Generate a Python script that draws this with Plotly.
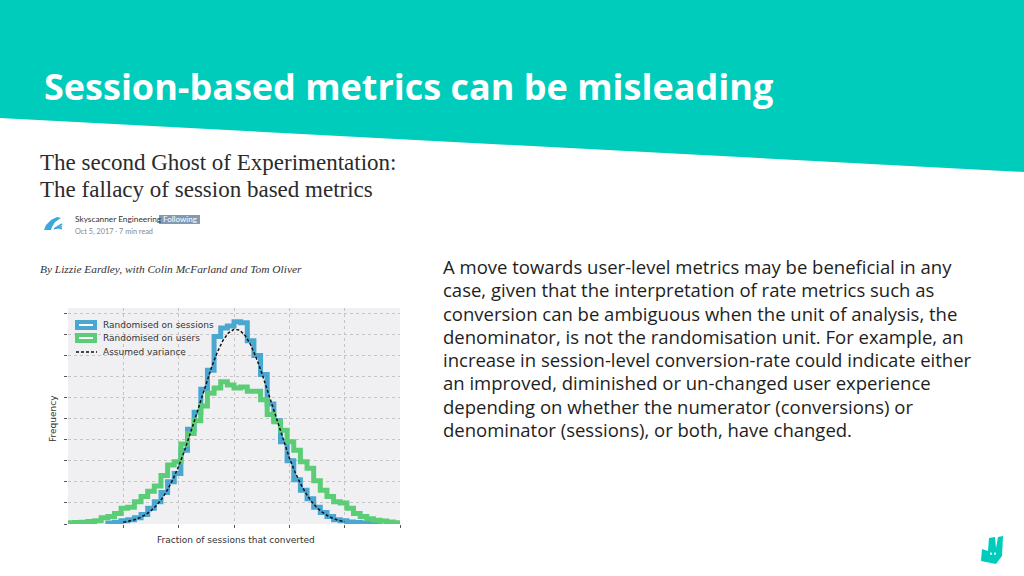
import plotly.graph_objects as go

W, H = 1024, 576

# ---------------- data ----------------
bin_width = 0.12
users_start = 0.0
users_freq = [0.06, 0.07, 0.08, 0.12, 0.16, 0.3, 0.35, 0.5, 0.75, 0.8,
              1.05, 1.3, 1.55, 1.8, 2.3, 2.8, 2.95, 3.8, 4.3, 4.9,
              5.6, 6.2, 6.45, 6.75, 6.6, 6.45, 6.5, 6.3, 6.3, 5.9,
              5.2, 4.85, 4.45, 3.9, 3.5, 2.95, 2.65, 2.05, 1.6, 1.3,
              1.05, 1.0, 0.75, 0.5, 0.35, 0.25, 0.18, 0.14, 0.09, 0.06]
sessions_start = 0.72
sessions_freq = [0.05, 0.08, 0.15, 0.2, 0.3, 0.45, 0.75, 1.05, 1.5, 2.0,
                 2.4, 3.5, 4.5, 5.3, 6.4, 7.3, 8.9, 9.3, 9.4, 9.6,
                 9.55, 8.7, 8.0, 7.1, 5.7, 4.9, 3.9, 3.0, 2.1, 1.6,
                 1.2, 0.8, 0.55, 0.35, 0.2, 0.15, 0.1, 0.07, 0.05, 0.03, 0.02]
curve_x = [1.0, 1.1, 1.2, 1.3, 1.4, 1.5, 1.6, 1.7, 1.8, 1.9, 2.0, 2.1, 2.2, 2.3,
           2.4, 2.5, 2.6, 2.7, 2.8, 2.9, 3.0, 3.1, 3.2, 3.3, 3.4, 3.5, 3.6, 3.7,
           3.8, 3.9, 4.0, 4.1, 4.2, 4.3, 4.4, 4.5, 4.6, 4.7, 4.8, 4.9, 5.0]
curve_y = [0.08, 0.13, 0.2, 0.3, 0.44, 0.63, 0.88, 1.21, 1.63, 2.14, 2.74, 3.43,
           4.19, 5.02, 5.86, 6.7, 7.48, 8.16, 8.71, 9.07, 9.24, 9.2, 8.95, 8.51,
           7.9, 7.18, 6.37, 5.53, 4.68, 3.88, 3.14, 2.48, 1.92, 1.45, 1.07, 0.77,
           0.55, 0.38, 0.25, 0.17, 0.11]
series_names = ["Randomised on sessions", "Randomised on users", "Assumed variance"]
x_ticks = [1, 2, 3, 4, 5, 6]
y_ticks = [0, 1, 2, 3, 4, 5, 6, 7, 8, 9, 10]

slide_title = "Session-based metrics can be misleading"
article_title = ["The second Ghost of Experimentation:", "The fallacy of session based metrics"]
byline = "By Lizzie Eardley, with Colin McFarland and Tom Oliver"
paragraph = [
    "A move towards user-level metrics may be beneficial in any",
    "case, given that the interpretation of rate metrics such as",
    "conversion can be ambiguous when the unit of analysis, the",
    "denominator, is not the randomisation unit. For example, an",
    "increase in session-level conversion-rate could indicate either",
    "an improved, diminished or un-changed user experience",
    "depending on whether the numerator (conversions) or",
    "denominator (sessions), or both, have changed.",
]

TEAL = "#00CCBC"
BLUE = "#4AA7D2"
GREEN = "#5CCD77"


def step_xy(start, freqs):
    edges = [start + bin_width * i for i in range(len(freqs) + 1)]
    xs = [edges[0]] + edges[:-1] + [edges[-1]]
    ys = [0] + list(freqs) + [0]
    return xs, ys


def px(x):
    return x / W


def py(y):
    return 1 - y / H


fig = go.Figure()
sx, sy = step_xy(sessions_start, sessions_freq)
ux, uy = step_xy(users_start, users_freq)
fig.add_trace(go.Scatter(x=sx, y=sy, mode="lines", line=dict(color=BLUE, width=5, shape="hv"),
                         name=series_names[0], showlegend=False))
fig.add_trace(go.Scatter(x=ux, y=uy, mode="lines", line=dict(color=GREEN, width=5, shape="hv"),
                         name=series_names[1], showlegend=False))
fig.add_trace(go.Scatter(x=curve_x, y=curve_y, mode="lines", line=dict(color="#111111", width=1.5, dash="3px,2px"),
                         name=series_names[2], showlegend=False))

axis_common = dict(showticklabels=False, ticks="outside", ticklen=3, tickcolor="#555555",
                   showgrid=True, gridcolor="#c4c4c4", griddash="dot", gridwidth=1,
                   zeroline=False, showline=False)
fig.update_xaxes(range=[0, 6], tickvals=x_ticks, domain=[px(68), px(400)], **axis_common)
fig.update_yaxes(range=[0, 10.25], tickvals=y_ticks, domain=[py(524), py(308)], **axis_common)

shapes = []
# teal header
shapes.append(dict(type="path", xref="paper", yref="paper",
                   path=f"M 0 1 L 1 1 L 1 {py(172)} L 0 {py(118)} Z",
                   fillcolor=TEAL, line=dict(width=0), layer="below"))
# legend handles
shapes.append(dict(type="rect", xref="paper", yref="paper", x0=px(77), x1=px(95), y0=py(322), y1=py(328),
                   fillcolor="white", line=dict(color=BLUE, width=4)))
shapes.append(dict(type="rect", xref="paper", yref="paper", x0=px(77), x1=px(95), y0=py(335), y1=py(341),
                   fillcolor="white", line=dict(color=GREEN, width=4)))
shapes.append(dict(type="line", xref="paper", yref="paper", x0=px(76), x1=px(97), y0=py(352), y1=py(352),
                   line=dict(color="#111111", width=1.5, dash="3px,2px")))
# "Following" badge
shapes.append(dict(type="rect", xref="paper", yref="paper", x0=px(159), x1=px(200), y0=py(224), y1=py(215),
                   fillcolor="#7f9bb6", line=dict(width=0)))
# Skyscanner icon (simplified)
shapes.append(dict(type="path", xref="paper", yref="paper",
                   path=(f"M {px(44)} {py(230)} L {px(46)} {py(225)} L {px(51)} {py(220)} L {px(57)} {py(217)} "
                         f"L {px(61)} {py(218)} L {px(55)} {py(222)} L {px(52)} {py(227)} L {px(51)} {py(230)} Z"),
                   fillcolor="#3ba7dc", line=dict(width=0)))
for off in [0, 4, 8]:
    shapes.append(dict(type="line", xref="paper", yref="paper",
                       x0=px(54 + off * 0.4), y0=py(229 - off * 0.2), x1=px(62), y1=py(224 + off * 0.6),
                       line=dict(color="#3ba7dc", width=1.6)))
# Deliveroo logo (simplified)
shapes.append(dict(type="path", xref="paper", yref="paper",
                   path=(f"M {px(989)} {py(538)} L {px(995)} {py(537)} L {px(996)} {py(548)} L {px(998)} {py(537)} "
                         f"L {px(1003)} {py(536)} L {px(1002)} {py(556)} L {px(996)} {py(564)} L {px(981)} {py(561)} "
                         f"L {px(982)} {py(549)} L {px(988)} {py(551)} Z"),
                   fillcolor=TEAL, line=dict(width=0)))
for dx in [991, 995]:
    shapes.append(dict(type="circle", xref="paper", yref="paper",
                       x0=px(dx - 1.1), x1=px(dx + 1.1), y0=py(552.6), y1=py(554.8),
                       fillcolor="white", line=dict(width=0)))

ann = []


def text(x, y, s, size, color, family, anchor="left", **kw):
    ann.append(dict(x=px(x), y=py(y), xref="paper", yref="paper", text=s, showarrow=False,
                    xanchor=anchor, yanchor="middle", font=dict(size=size, color=color, family=family), **kw))


text(42, 87, f"<b>{slide_title}</b>", 36, "white", "Open Sans")
text(38, 162, article_title[0], 23, "#2b2b2b", "Liberation Serif")
text(38, 189, article_title[1], 23, "#2b2b2b", "Liberation Serif")
text(73, 219, "Skyscanner Engineering", 8.3, "#333333", "Lato")
text(179.5, 219.5, "Following", 8, "white", "Lato", anchor="center")
text(73, 231, "Oct 5, 2017 · 7 min read", 7.3, "#888888", "Lato")
text(38, 269, f"<i>{byline}</i>", 11.4, "#333333", "Liberation Serif")

line_y = [266, 289.5, 313, 336, 359.5, 382.5, 406, 429]
for yy, s in zip(line_y, paragraph):
    text(441, yy, s, 18.5, "#1e1e1e", "Open Sans")

# chart legend labels and axis titles
text(101, 325, series_names[0], 9.0, "#333333", "DejaVu Sans")
text(101, 338, series_names[1], 9.0, "#333333", "DejaVu Sans")
text(101, 352, series_names[2], 9.0, "#333333", "DejaVu Sans")
text(236, 540, "Fraction of sessions that converted", 9.0, "#333333", "DejaVu Sans", anchor="center")
ann.append(dict(x=px(53), y=py(419), xref="paper", yref="paper", text="Frequency", showarrow=False,
                textangle=-90, xanchor="center", yanchor="middle",
                font=dict(size=9.0, color="#333333", family="DejaVu Sans")))

fig.update_layout(width=W, height=H, margin=dict(l=0, r=0, t=0, b=0),
                  paper_bgcolor="white", plot_bgcolor="#f0f0f3",
                  shapes=shapes, annotations=ann, showlegend=False)

fig.write_html("out.html")
